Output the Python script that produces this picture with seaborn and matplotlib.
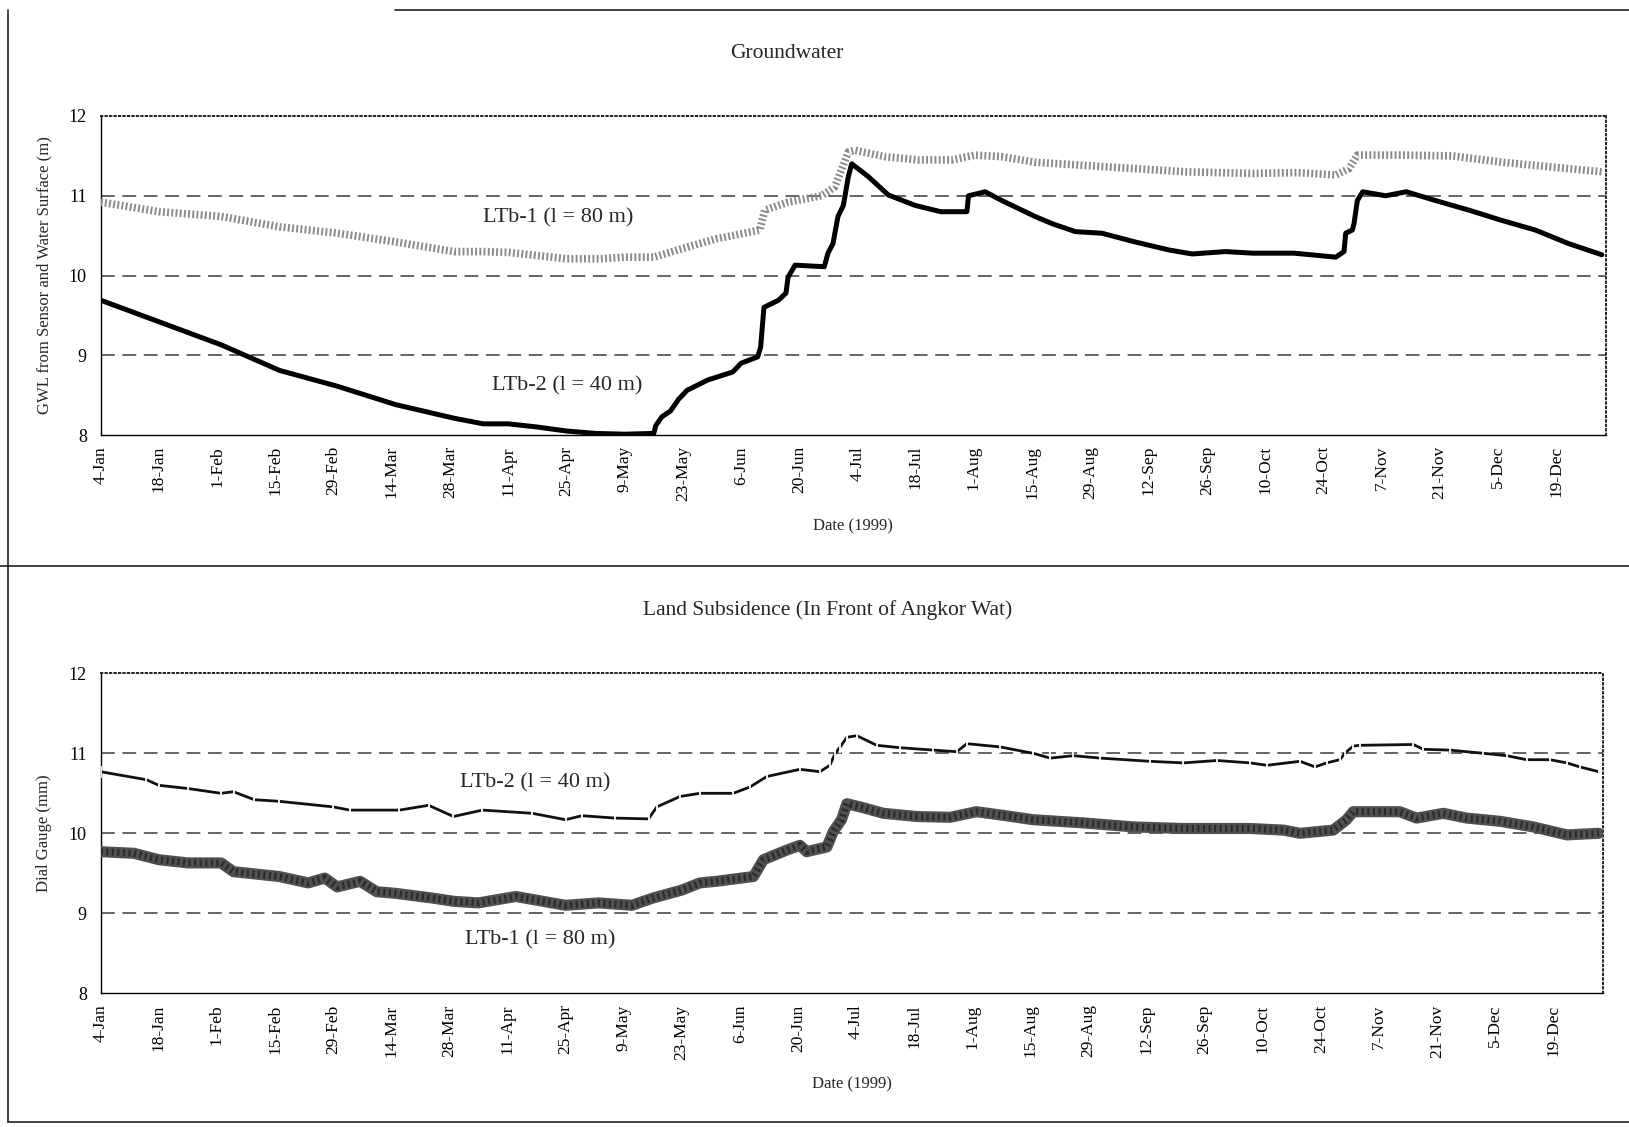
import matplotlib
matplotlib.use("Agg")
import matplotlib.pyplot as plt
from matplotlib.lines import Line2D
import seaborn as sns
import pandas as pd


# day 0 = 4-Jan; one tick every 14 days
TICK_LABELS = ["4-Jan", "18-Jan", "1-Feb", "15-Feb", "29-Feb", "14-Mar", "28-Mar",
               "11-Apr", "25-Apr", "9-May", "23-May", "6-Jun", "20-Jun", "4-Jul",
               "18-Jul", "1-Aug", "15-Aug", "29-Aug", "12-Sep", "26-Sep", "10-Oct",
               "24-Oct", "7-Nov", "21-Nov", "5-Dec", "19-Dec"]
TICK_DAYS = [14 * i for i in range(len(TICK_LABELS))]

# Groundwater, LTb-2 (l = 40 m)
gw2_day = [0, 14, 29, 43, 57, 71, 85, 92, 98, 105, 112, 119, 126, 133, 133.5, 135,
           137, 139, 141, 146, 152, 154, 158, 158.7, 159.5, 163, 164.8, 165.3, 167,
           174, 174.9, 176.1, 177.3, 178.6, 179.8, 180.6, 184.6, 189.4, 195.8, 202,
           208.3, 208.7, 212.7, 216.7, 224.7, 228.8, 234.4, 240.8, 248.8, 256.9,
           262.5, 270.5, 277, 287, 297, 299, 299.4, 301, 301.4, 302.2, 303.5, 309,
           314, 321, 329, 337, 345, 353, 361]
gw2_val = [9.69, 9.42, 9.13, 8.81, 8.61, 8.38, 8.21, 8.14, 8.14, 8.10, 8.05, 8.02,
           8.01, 8.02, 8.12, 8.23, 8.30, 8.45, 8.56, 8.69, 8.79, 8.90, 8.98, 9.10,
           9.60, 9.69, 9.78, 9.98, 10.13, 10.11, 10.28, 10.40, 10.74, 10.88, 11.24,
           11.40, 11.24, 11.01, 10.88, 10.80, 10.80, 11.00, 11.05, 10.94, 10.74,
           10.65, 10.55, 10.53, 10.42, 10.32, 10.27, 10.30, 10.28, 10.28, 10.23,
           10.30, 10.53, 10.57, 10.65, 10.94, 11.05, 11.00, 11.05, 10.94, 10.82,
           10.69, 10.57, 10.40, 10.26]

# Groundwater, LTb-1 (l = 80 m)
gw1_day = [0, 14, 29, 43, 57, 71, 85, 92, 98, 105, 112, 120, 126, 133, 140, 148,
           158.5, 159.7, 165.3, 173.3, 176.5, 178.1, 179.8, 181.4, 188.6, 196.6,
           204.7, 210.3, 216.7, 224.7, 236.8, 248.8, 260.9, 277, 288, 297, 300.2,
           302.2, 313, 325, 337, 349, 361]
gw1_val = [10.92, 10.80, 10.74, 10.61, 10.53, 10.42, 10.30, 10.30, 10.29, 10.25,
           10.21, 10.21, 10.23, 10.23, 10.34, 10.46, 10.57, 10.82, 10.92, 11.00,
           11.11, 11.32, 11.55, 11.57, 11.49, 11.45, 11.45, 11.51, 11.49, 11.42,
           11.38, 11.34, 11.30, 11.28, 11.29, 11.26, 11.34, 11.51, 11.51, 11.50,
           11.42, 11.36, 11.30]

# Land subsidence, LTb-2 (l = 40 m)
ls2_day = [0, 11, 14, 21, 29, 32, 37, 43, 56, 60, 72, 79, 85, 92, 104, 112, 116,
           124, 132, 134, 139.6, 144.4, 152.4, 156.5, 160.5, 168.5, 173.3, 175.7,
           177, 178.2, 179.8, 182.2, 187, 192.6, 200.6, 206.3, 208.7, 216.7, 224.7,
           228.8, 234.4, 240.8, 252.8, 260.9, 269, 277, 281, 289, 292.6, 295.4,
           298.6, 299.8, 301.8, 303.4, 316.3, 318.7, 325.1, 333.2, 338.8, 343.6,
           349.2, 353.3, 356.4, 361]
ls2_val = [10.77, 10.67, 10.60, 10.56, 10.50, 10.52, 10.42, 10.40, 10.33, 10.29,
           10.29, 10.35, 10.21, 10.29, 10.25, 10.17, 10.22, 10.19, 10.18, 10.33,
           10.46, 10.50, 10.50, 10.58, 10.71, 10.80, 10.77, 10.85, 11.00, 11.08,
           11.20, 11.22, 11.10, 11.07, 11.04, 11.02, 11.12, 11.08, 11.00, 10.94,
           10.97, 10.94, 10.90, 10.88, 10.91, 10.88, 10.85, 10.90, 10.83, 10.88,
           10.92, 11.00, 11.09, 11.10, 11.11, 11.05, 11.04, 11.00, 10.97, 10.92,
           10.92, 10.88, 10.83, 10.77]

# Land subsidence, LTb-1 (l = 80 m)
ls1_day = [0, 8, 14, 21, 29, 32, 43, 50, 54, 57, 62.5, 66.5, 71, 80, 85, 91, 100,
           112, 120, 128, 133, 140, 144.4, 148.4, 157.3, 159.7, 165.3, 168.5, 170.1,
           175, 176.5, 178.5, 179.8, 183, 188.6, 196.6, 204.7, 211, 216.7, 224.7,
           236.8, 248.8, 260.9, 277, 285, 289, 297, 300.2, 301.8, 313, 317.1, 323.5,
           329.2, 337.2, 345.2, 353.3, 361]
ls1_val = [9.77, 9.75, 9.67, 9.63, 9.63, 9.52, 9.46, 9.38, 9.44, 9.33, 9.40, 9.27,
           9.25, 9.19, 9.15, 9.13, 9.21, 9.10, 9.13, 9.10, 9.19, 9.29, 9.38, 9.40,
           9.46, 9.67, 9.79, 9.85, 9.77, 9.83, 10.02, 10.17, 10.37, 10.33, 10.25,
           10.21, 10.20, 10.27, 10.23, 10.17, 10.13, 10.08, 10.06, 10.06, 10.04,
           10.00, 10.04, 10.17, 10.27, 10.27, 10.19, 10.25, 10.19, 10.15, 10.08,
           9.98, 10.00]

sns.set_style("white")
plt.rcParams["font.family"] = ["Liberation Serif", "DejaVu Serif"]

W, H = 1629, 1127
fig = plt.figure(figsize=(W / 100, H / 100), dpi=100)


def px_axes(left, top, right, bottom):
    return fig.add_axes([left / W, 1 - bottom / H, (right - left) / W, (bottom - top) / H])


def style_axes(ax, ylabel):
    ax.set_xlim(0, 362)
    ax.set_ylim(8, 12)
    ax.set_yticks([8, 9, 10, 11, 12])
    ax.set_xticks(TICK_DAYS)
    ax.set_xticklabels(TICK_LABELS, rotation=90, fontsize=12.5)
    ax.tick_params(axis="x", direction="in", length=4, width=0.8, pad=8, colors="black")
    ax.tick_params(axis="y", length=0, pad=10, labelsize=13, colors="black")
    for y in (9, 10, 11):
        ax.axhline(y, color="#3a3a3a", lw=1.1, ls=(0, (9, 5)), zorder=1)
    for side in ("left", "bottom"):
        ax.spines[side].set_color("black")
        ax.spines[side].set_linewidth(1.0)
    for side in ("top", "right"):
        ax.spines[side].set_color("#222222")
        ax.spines[side].set_linewidth(1.4)
        ax.spines[side].set_linestyle((0, (0.7, 1.6)))
    ax.set_xlabel("Date (1999)", fontsize=12, labelpad=12)
    ax.set_ylabel(ylabel, fontsize=12, labelpad=12)


# ---- Groundwater ----
ax1 = px_axes(100.7, 116, 1606, 435)
df_gw1 = pd.DataFrame({"day": gw1_day, "val": gw1_val})
df_gw2 = pd.DataFrame({"day": gw2_day, "val": gw2_val})
sns.lineplot(data=df_gw1, x="day", y="val", ax=ax1, estimator=None, sort=False,
             color="#8a8a8a", lw=5.5, ls=(0, (0.25, 0.3)), zorder=3)
sns.lineplot(data=df_gw2, x="day", y="val", ax=ax1, estimator=None, sort=False,
             color="black", lw=3.6, zorder=4)
style_axes(ax1, "GWL from Sensor and Water Surface (m)")
ax1.text(110, 10.72, "LTb-1 (l = 80 m)", fontsize=16, ha="center", va="center")
ax1.text(112.3, 8.61, "LTb-2 (l = 40 m)", fontsize=16, ha="center", va="center")
fig.text(787 / W, 1 - 53 / H, "Groundwater", fontsize=15.5, ha="center", va="center")

# ---- Land subsidence ----
ax2 = px_axes(100.7, 673.3, 1603, 993.3)
df_ls1 = pd.DataFrame({"day": ls1_day, "val": ls1_val})
df_ls2 = pd.DataFrame({"day": ls2_day, "val": ls2_val})
sns.lineplot(data=df_ls1, x="day", y="val", ax=ax2, estimator=None, sort=False,
             color="#505050", lw=8, zorder=3)
sns.lineplot(data=df_ls1, x="day", y="val", ax=ax2, estimator=None, sort=False,
             color="#2a2a2a", lw=5, ls=(0, (0.3, 0.5)), zorder=3)
sns.lineplot(data=df_ls2, x="day", y="val", ax=ax2, estimator=None, sort=False,
             color="#111111", lw=2.0, marker="|", ms=8, mew=1.3, zorder=4)
style_axes(ax2, "Dial Gauge (mm)")
ax2.text(104.7, 10.63, "LTb-2 (l = 40 m)", fontsize=16, ha="center", va="center")
ax2.text(106, 8.67, "LTb-1 (l = 80 m)", fontsize=16, ha="center", va="center")
fig.text(828 / W, 1 - 610 / H, "Land Subsidence (In Front of Angkor Wat)",
         fontsize=15.5, ha="center", va="center")

# scanned page frame
frame = dict(color="#222222", lw=1.2, transform=fig.transFigure)
fig.add_artist(Line2D([8 / W, 8 / W], [1 - 10 / H, 1 - 1122 / H], **frame))
fig.add_artist(Line2D([395 / W, 1], [1 - 10 / H, 1 - 10 / H], **frame))
fig.add_artist(Line2D([0, 1], [1 - 566 / H, 1 - 566 / H], **frame))
fig.add_artist(Line2D([8 / W, 1], [1 - 1122 / H, 1 - 1122 / H], **frame))

fig.savefig("out.png", dpi=100)
